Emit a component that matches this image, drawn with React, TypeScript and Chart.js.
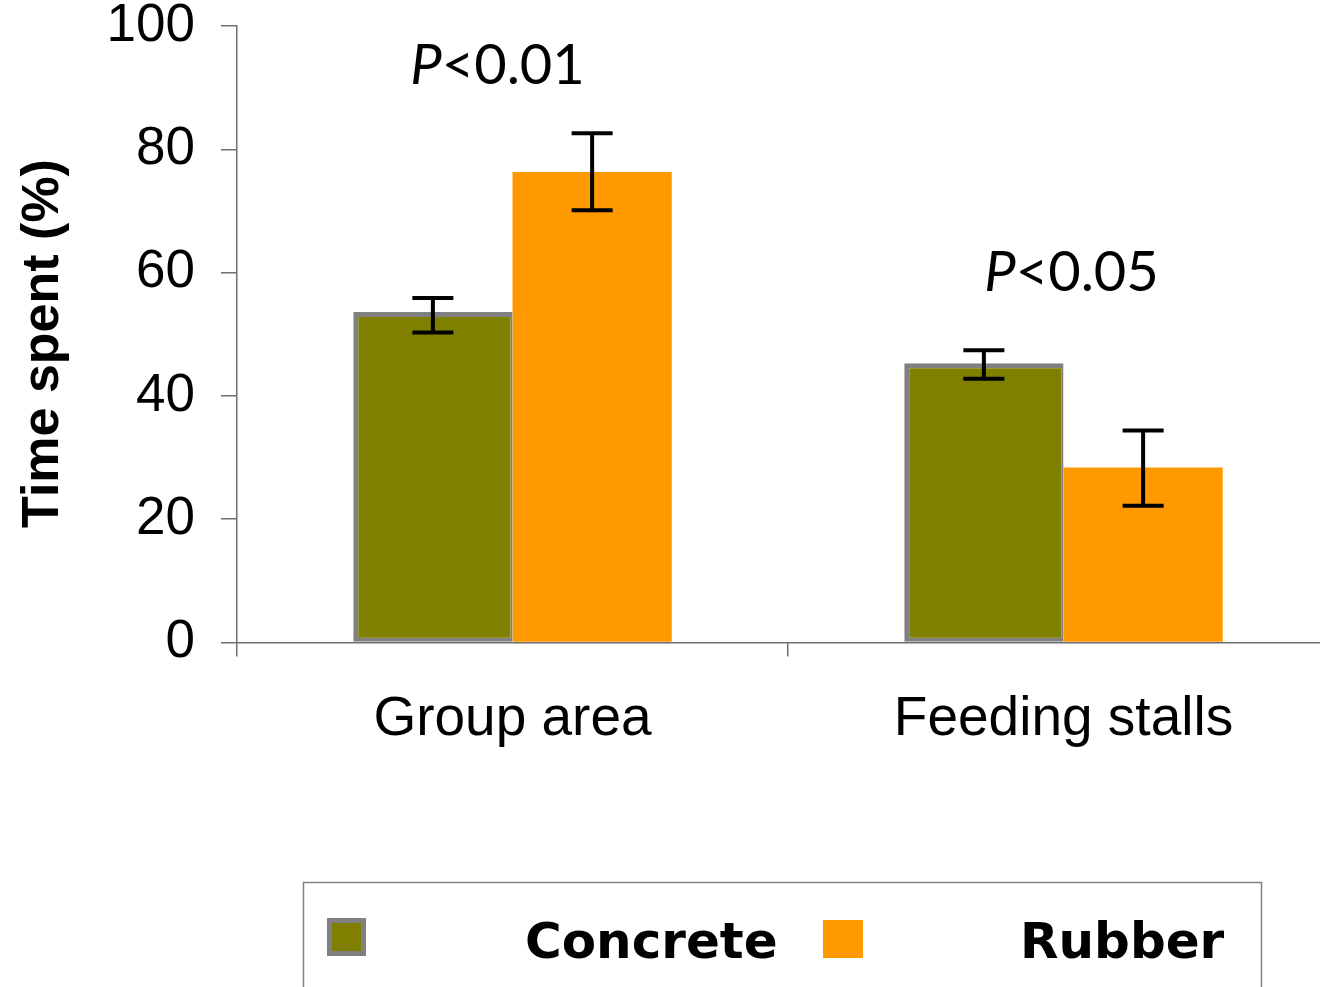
import React, { useEffect, useRef } from "react";
import { Chart, registerables } from "chart.js";

Chart.register(...registerables);

// ---- data ----
const categories = ["Group area", "Feeding stalls"];
const seriesNames = ["Concrete", "Rubber"];
const concreteValues = [53.6, 45.3];
const rubberValues = [76.3, 28.4];
const concreteErrLow = [50.3, 42.8];
const concreteErrHigh = [55.9, 47.4];
const rubberErrLow = [70.1, 22.2];
const rubberErrHigh = [82.6, 34.4];
const yTickValues = [0, 20, 40, 60, 80, 100];
const annotationItalic = ["P", "P"];
const annotationRest = ["<0.01", "<0.05"];
const annotationValues = [90.6, 57.0];
const yAxisTitle = "Time spent (%)";

const errLows = [concreteErrLow, rubberErrLow];
const errHighs = [concreteErrHigh, rubberErrHigh];

const AXIS_COLOR = "#6f6f6f";
const OLIVE = "#808000";
const ORANGE = "#FF9900";
const GREY = "#808080";

const errorBarPlugin = {
  id: "errorBars",
  afterDatasetsDraw(chart: any) {
    const { ctx } = chart;
    const y = chart.scales.y;
    ctx.save();
    ctx.strokeStyle = "#000";
    ctx.lineWidth = 4;
    chart.data.datasets.forEach((_ds: any, di: number) => {
      const meta = chart.getDatasetMeta(di);
      meta.data.forEach((el: any, i: number) => {
        const x = el.x;
        const yl = y.getPixelForValue(errLows[di][i]);
        const yh = y.getPixelForValue(errHighs[di][i]);
        const half = 20.5;
        ctx.beginPath();
        ctx.moveTo(x, yl);
        ctx.lineTo(x, yh);
        ctx.moveTo(x - half, yl);
        ctx.lineTo(x + half, yl);
        ctx.moveTo(x - half, yh);
        ctx.lineTo(x + half, yh);
        ctx.stroke();
      });
    });
    ctx.restore();
  },
};

const annotationPlugin = {
  id: "pAnnotations",
  afterDatasetsDraw(chart: any) {
    const { ctx } = chart;
    const xs = chart.scales.x;
    const ys = chart.scales.y;
    const offsets = [-15, 8];
    ctx.save();
    ctx.fillStyle = "#000";
    ctx.textBaseline = "alphabetic";
    ctx.textAlign = "left";
    categories.forEach((_c, i) => {
      const itFont = 'italic 56px Lato, "Open Sans", sans-serif';
      const rgFont = '56px Lato, "Open Sans", sans-serif';
      ctx.font = itFont;
      const w1 = ctx.measureText(annotationItalic[i]).width;
      ctx.font = rgFont;
      const w2 = ctx.measureText(annotationRest[i]).width;
      const cx = xs.getPixelForValue(i) + offsets[i];
      const by = ys.getPixelForValue(annotationValues[i]);
      const left = cx - (w1 + w2) / 2;
      ctx.font = itFont;
      ctx.fillText(annotationItalic[i], left, by);
      ctx.font = rgFont;
      ctx.fillText(annotationRest[i], left + w1, by);
    });
    ctx.restore();
  },
};

const titleAndLegendPlugin = {
  id: "titleLegend",
  afterDraw(chart: any) {
    const { ctx } = chart;
    ctx.save();
    // y axis title
    ctx.translate(58, 343.5);
    ctx.rotate(-Math.PI / 2);
    ctx.font = 'bold 52px "Liberation Sans", Arial, sans-serif';
    ctx.fillStyle = "#000";
    ctx.textAlign = "center";
    ctx.textBaseline = "alphabetic";
    ctx.fillText(yAxisTitle, 0, 0);
    ctx.restore();

    // legend
    ctx.save();
    ctx.strokeStyle = GREY;
    ctx.lineWidth = 1.5;
    ctx.strokeRect(303.5, 882.5, 958, 200);
    const ds = chart.data.datasets;
    // Concrete swatch
    ctx.fillStyle = GREY;
    ctx.fillRect(327, 918, 39, 38);
    ctx.fillStyle = ds[0].backgroundColor;
    ctx.fillRect(332, 923, 29, 28);
    // Rubber swatch
    ctx.fillStyle = ds[1].backgroundColor;
    ctx.fillRect(823, 920, 40, 38);
    ctx.fillStyle = "#000";
    ctx.font = 'bold 50px "DejaVu Sans", Verdana, sans-serif';
    ctx.textBaseline = "alphabetic";
    ctx.textAlign = "left";
    ctx.fillText(ds[0].label, 525, 958);
    ctx.fillText(ds[1].label, 1020, 958);
    ctx.restore();
  },
};

export default function App() {
  const ref = useRef<HTMLCanvasElement | null>(null);

  useEffect(() => {
    if (!ref.current) return;
    const chart = new Chart(ref.current, {
      type: "bar",
      data: {
        labels: categories,
        datasets: [
          {
            label: seriesNames[0],
            data: concreteValues,
            backgroundColor: OLIVE,
            borderColor: GREY,
            borderWidth: { top: 5, left: 5, right: 2, bottom: 4 },
            borderSkipped: false,
            categoryPercentage: 0.578,
            barPercentage: 1,
          },
          {
            label: seriesNames[1],
            data: rubberValues,
            backgroundColor: ORANGE,
            borderWidth: 0,
            categoryPercentage: 0.578,
            barPercentage: 1,
          },
        ],
      },
      options: {
        responsive: false,
        animation: false,
        devicePixelRatio: 1,
        layout: { padding: { top: 26, left: 0, right: 6, bottom: 0 } },
        plugins: {
          legend: { display: false },
          tooltip: { enabled: false },
        },
        scales: {
          x: {
            grid: {
              display: true,
              offset: true,
              drawOnChartArea: false,
              drawTicks: true,
              tickLength: 14,
              color: AXIS_COLOR,
              lineWidth: 1.5,
            },
            border: { display: true, color: AXIS_COLOR, width: 1.5 },
            ticks: {
              color: "#000",
              padding: 30,
              font: { family: '"Liberation Sans", Arial, sans-serif', size: 55 },
            },
            afterFit(scale: any) {
              scale.height = 344.5;
              scale.paddingLeft = 0;
              scale.paddingRight = 0;
            },
          },
          y: {
            min: 0,
            max: 100,
            afterBuildTicks(scale: any) {
              scale.ticks = yTickValues.map((v) => ({ value: v }));
            },
            grid: {
              display: true,
              drawOnChartArea: false,
              drawTicks: true,
              tickLength: 16,
              color: AXIS_COLOR,
              lineWidth: 1.5,
            },
            border: { display: true, color: AXIS_COLOR, width: 1.5 },
            ticks: {
              color: "#000",
              padding: 26,
              font: { family: '"Liberation Sans", Arial, sans-serif', size: 53, lineHeight: 1 },
            },
            afterFit(scale: any) {
              scale.width = 237;
              scale.paddingTop = 0;
              scale.paddingBottom = 0;
            },
          },
        },
      },
      plugins: [errorBarPlugin, annotationPlugin, titleAndLegendPlugin],
    });
    return () => chart.destroy();
  }, []);

  return (
    <div
      style={{
        position: "absolute",
        left: 0,
        top: 0,
        width: 1320,
        height: 987,
        overflow: "hidden",
        background: "#fff",
      }}
    >
      <canvas ref={ref} width={1345} height={987} style={{ display: "block" }} />
    </div>
  );
}
